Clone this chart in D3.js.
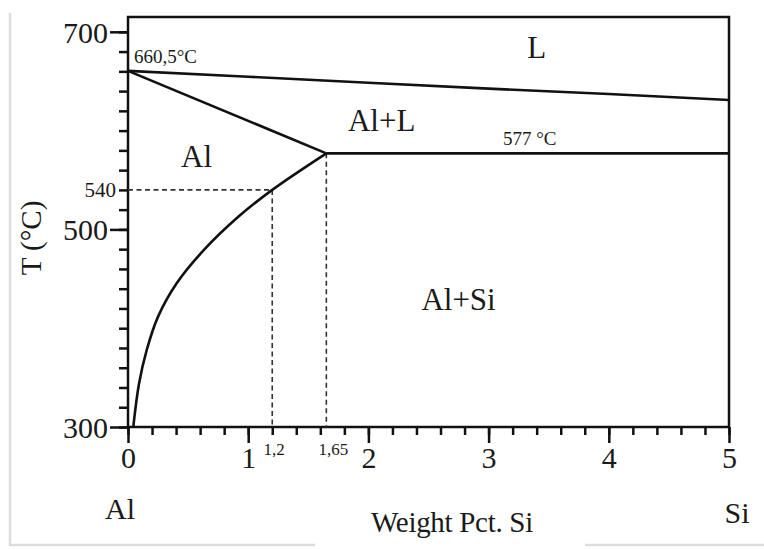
<!DOCTYPE html>
<html>
<head>
<meta charset="utf-8">
<script src="https://cdn.jsdelivr.net/npm/d3@7"></script>
<style>
  body { margin: 0; background: #fff; }
  svg text { font-family: "Liberation Serif", "Times New Roman", serif; fill: #1a1a1a; }
</style>
</head>
<body>
<div id="chart"></div>
<script>
// Al-Si phase diagram (Al-rich corner)
var liquidus = [[0, 660.5], [1, 654.5], [2, 648.5], [3, 642.5], [4, 637], [5, 631]];
var solidus = [[0, 660.5], [1.65, 577]];
var eutectic = [[1.65, 577], [5, 577]];
var solvus = [[1.65, 577], [1.2, 540], [0.92, 513], [0.63, 479], [0.405, 445.5],
              [0.25, 411.7], [0.156, 378], [0.092, 344], [0.044, 300]];
var xMajor = [0, 1, 2, 3, 4, 5];
var xMinor = d3.range(0, 26).map(function(i) { return i / 5; });
var yMajor = [300, 500, 700];
var yMinor = d3.range(300, 701, 20);
var markers = [{x: 1.2, t: 540, label: "1,2"}, {x: 1.65, t: 577, label: "1,65"}];
var regions = [
  {x: 3.4, t: 684, text: "L"},
  {x: 2.11, t: 611, text: "Al+L"},
  {x: 0.57, t: 574, text: "Al"},
  {x: 2.75, t: 429, text: "Al+Si"}
];

var width = 764, height = 549;
var margin = {top: 17, right: 35, bottom: 122, left: 128};

var svg = d3.select('#chart').append('svg')
    .attr('width', width)
    .attr('height', height);

// faint frame lines from the original scan
svg.append('path')
    .attr('d', 'M10,13V545H315M585,545H764')
    .style('fill', 'none')
    .style('stroke', '#ddd')
    .style('stroke-width', 2.5);

var x = d3.scaleLinear().domain([0, 5]).range([margin.left, width - margin.right]);
var y = d3.scaleLinear().domain([300, 715]).range([height - margin.bottom, margin.top]);

var line = d3.line()
    .x(function(d) { return x(d[0]); })
    .y(function(d) { return y(d[1]); });

// axes
svg.append('g')
    .attr('transform', 'translate(' + x(0) + ',0)')
    .call(d3.axisLeft(y).tickValues(yMinor).tickSize(9).tickFormat(''));
var yMajorAxis = svg.append('g')
    .attr('transform', 'translate(' + x(0) + ',0)')
    .call(d3.axisLeft(y).tickValues(yMajor).tickSize(18).tickPadding(2));
svg.append('g')
    .attr('transform', 'translate(0,' + y(300) + ')')
    .call(d3.axisBottom(x).tickValues(xMinor).tickSize(8).tickFormat(''));
var xMajorAxis = svg.append('g')
    .attr('transform', 'translate(0,' + y(300) + ')')
    .call(d3.axisBottom(x).tickValues(xMajor).tickSize(16).tickPadding(4)
        .tickFormat(d3.format('d')));

svg.selectAll('.domain').remove();
svg.selectAll('.tick line').style('stroke', '#111').style('stroke-width', 2.5);
yMajorAxis.selectAll('text').style('font-size', '30px').attr('dy', '0.34em');
xMajorAxis.selectAll('text').style('font-size', '30px');

// frame
svg.append('rect')
    .attr('x', x(0))
    .attr('y', y(715))
    .attr('width', x(5) - x(0))
    .attr('height', y(300) - y(715))
    .style('fill', 'none')
    .style('stroke', '#111')
    .style('stroke-width', 2.5);

// dashed guides
var dash = svg.append('g')
    .style('stroke', '#333')
    .style('stroke-width', 1.6)
    .style('stroke-dasharray', '5,3.5')
    .style('fill', 'none');
dash.append('path').attr('d', line([[0, 540], [1.2, 540]]));
markers.forEach(function(m) {
  dash.append('path').attr('d', line([[m.x, m.t], [m.x, 300]]));
});

// phase boundaries
[liquidus, solidus, eutectic].forEach(function(d) {
  svg.append('path')
      .attr('d', line(d))
      .style('fill', 'none')
      .style('stroke', '#111')
      .style('stroke-width', 2.6);
});
svg.append('path')
    .attr('d', d3.line().curve(d3.curveCatmullRom)
        .x(function(d) { return x(d[0]); })
        .y(function(d) { return y(d[1]); })(solvus))
    .style('fill', 'none')
    .style('stroke', '#111')
    .style('stroke-width', 2.6);

// small labels
svg.selectAll('.mark-label')
    .data(markers)
  .enter().append('text')
    .attr('class', 'mark-label')
    .attr('x', function(d) { return x(d.x) + (d.label === '1,65' ? 7 : 2); })
    .attr('y', y(300) + 28)
    .attr('text-anchor', 'middle')
    .style('font-size', '17px')
    .text(function(d) { return d.label; });

svg.append('text')
    .attr('x', x(0) - 12)
    .attr('y', y(540))
    .attr('dy', '0.34em')
    .attr('text-anchor', 'end')
    .style('font-size', '21px')
    .text('540');

svg.append('text')
    .attr('x', x(0) + 6)
    .attr('y', y(660.5) - 8)
    .style('font-size', '19px')
    .text('660,5°C');

svg.append('text')
    .attr('x', x(3.12))
    .attr('y', y(577) - 8)
    .style('font-size', '19px')
    .text('577 °C');

// phase region labels
svg.selectAll('.region')
    .data(regions)
  .enter().append('text')
    .attr('class', 'region')
    .attr('x', function(d) { return x(d.x); })
    .attr('y', function(d) { return y(d.t); })
    .attr('dy', '0.35em')
    .attr('text-anchor', 'middle')
    .style('font-size', '31px')
    .text(function(d) { return d.text; });

// axis titles
svg.append('text')
    .attr('x', x(0) - 8)
    .attr('y', 519)
    .attr('text-anchor', 'middle')
    .style('font-size', '30px')
    .text('Al');
svg.append('text')
    .attr('x', x(5) + 8)
    .attr('y', 523)
    .attr('text-anchor', 'middle')
    .style('font-size', '30px')
    .text('Si');
svg.append('text')
    .attr('x', 452)
    .attr('y', 532)
    .attr('text-anchor', 'middle')
    .style('font-size', '29px')
    .style('letter-spacing', '-0.3px')
    .text('Weight Pct. Si');
svg.append('text')
    .attr('transform', 'translate(41,238) rotate(-90)')
    .attr('text-anchor', 'middle')
    .style('font-size', '29px')
    .text('T (°C)');
</script>
</body>
</html>
